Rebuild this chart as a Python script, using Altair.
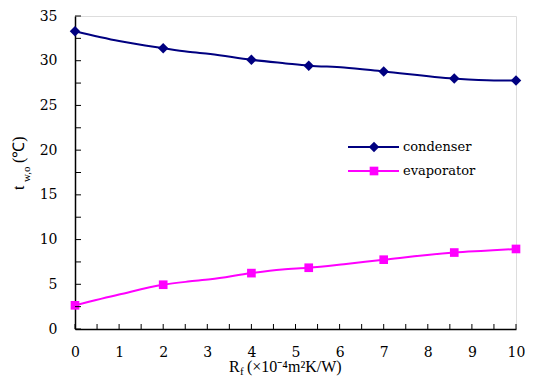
import altair as alt
import pandas as pd

# ---- data ----
series_names = ["condenser", "evaporator"]
series_colors = ["#000080", "#FF00FF"]
series_shapes = ["diamond", "square"]

cond_x = [0, 1, 2, 2.56, 3.07, 4, 4.78, 5.3, 6.1, 7, 8.6, 9.5, 10]
cond_y = [33.3, 32.2, 31.4, 31.0, 30.75, 30.1, 29.7, 29.45, 29.25, 28.8, 28.0, 27.8, 27.8]
cond_mark_x = [0, 2, 4, 5.3, 7, 8.6, 10]
cond_mark_y = [33.3, 31.4, 30.1, 29.45, 28.8, 28.0, 27.8]

evap_x = [0, 1, 2, 2.56, 3.07, 4, 4.7, 5.3, 6.1, 7, 8.6, 9.3, 10]
evap_y = [2.65, 3.85, 4.95, 5.3, 5.55, 6.25, 6.65, 6.85, 7.25, 7.75, 8.55, 8.75, 8.95]
evap_mark_x = [0, 2, 4, 5.3, 7, 8.6, 10]
evap_mark_y = [2.65, 4.95, 6.25, 6.85, 7.75, 8.55, 8.95]

x_labels = list(range(0, 11))
x_ticks = [i * 0.5 for i in range(21)]
y_labels = list(range(0, 36, 5))
y_ticks = [i * 2.5 for i in range(15)]

# ---- tables ----
line_df = pd.concat([
    pd.DataFrame({"x": cond_x, "y": cond_y, "series": series_names[0]}),
    pd.DataFrame({"x": evap_x, "y": evap_y, "series": series_names[1]}),
])
mark_df = pd.concat([
    pd.DataFrame({"x": cond_mark_x, "y": cond_mark_y, "series": series_names[0]}),
    pd.DataFrame({"x": evap_mark_x, "y": evap_mark_y, "series": series_names[1]}),
])

W, H = 441, 313
FONT = "DejaVu Serif"
SERIF = "Liberation Serif"

xscale = alt.Scale(domain=[0, 10], nice=False, zero=False)
yscale = alt.Scale(domain=[0, 35], nice=False)
color = alt.Color("series:N", scale=alt.Scale(domain=series_names, range=series_colors), legend=None)

xaxis = alt.Axis(values=x_labels, ticks=False, grid=False, labelPadding=16, labelFont=FONT,
                 labelFontSize=14, labelColor="#000", domainColor="#000", domainWidth=1.5,
                 title=None, labelFlush=False)
yaxis = alt.Axis(values=y_labels, ticks=False, grid=False, labelPadding=18, labelFont=FONT,
                 labelFontSize=14, labelColor="#000", domainColor="#000", domainWidth=1.5,
                 title=None)

lines = alt.Chart(line_df).mark_line(interpolate="monotone", strokeWidth=2).encode(
    x=alt.X("x:Q", scale=xscale, axis=xaxis),
    y=alt.Y("y:Q", scale=yscale, axis=yaxis),
    color=color,
    detail="series:N",
)

points = alt.Chart(mark_df).mark_point(filled=True, opacity=1).encode(
    x=alt.X("x:Q", scale=xscale),
    y=alt.Y("y:Q", scale=yscale),
    color=color,
    shape=alt.Shape("series:N", scale=alt.Scale(domain=series_names, range=series_shapes), legend=None),
    size=alt.Size("series:N", scale=alt.Scale(domain=series_names, range=[110, 75]), legend=None),
)

ytick_rules = alt.Chart(pd.DataFrame({"v": y_ticks})).mark_rule(color="#000", strokeWidth=1).encode(
    y=alt.Y("v:Q", scale=yscale), x=alt.value(0), x2=alt.value(6)
)
xtick_rules = alt.Chart(pd.DataFrame({"v": x_ticks})).mark_rule(color="#000", strokeWidth=1).encode(
    x=alt.X("v:Q", scale=xscale), y=alt.value(H), y2=alt.value(H - 5)
)

# ---- manual legend ----
legend_layers = []
for i, (name, col, shp, sz) in enumerate(zip(series_names, series_colors, series_shapes, [110, 75])):
    d = pd.DataFrame({"series": [name]})
    ly = 131 + 24 * i
    legend_layers.append(alt.Chart(d).mark_rule(color=col, strokeWidth=2).encode(
        x=alt.value(273), x2=alt.value(324), y=alt.value(ly)))
    legend_layers.append(alt.Chart(d).mark_point(filled=True, opacity=1, color=col, shape=shp, size=sz).encode(
        x=alt.value(299), y=alt.value(ly)))
    legend_layers.append(alt.Chart(d).mark_text(align="left", baseline="middle", font=FONT, fontSize=13,
                                                color="#000").encode(
        text="series:N", x=alt.value(328), y=alt.value(ly)))

# ---- axis titles built from text pieces (sub/superscripts) ----
def txt(s, x, y, size, angle=0, align="left", baseline="alphabetic"):
    kw = dict(align=align, baseline=baseline, font=SERIF, fontSize=size, color="#000", text=s)
    if angle:
        kw["angle"] = angle
    return alt.Chart(pd.DataFrame({"a": [0]})).mark_text(**kw).encode(x=alt.value(x), y=alt.value(y))

title_layers = [
    txt("t", -51, 174, 16, angle=270),
    txt("w,o", -45, 166, 11, angle=270),
    txt("(℃)", -51, 147, 16, angle=270),
    txt("R", 154, 356, 16),
    txt("f", 165, 359, 11),
    txt("(×10⁻⁴m²K/W)", 172, 356, 16),
]

chart = alt.layer(
    lines, points, ytick_rules, xtick_rules, *legend_layers, *title_layers
).properties(
    width=W, height=H,
    autosize=alt.AutoSizeParams(type="none"),
    padding={"left": 67, "top": 8, "right": 9, "bottom": 50},
).configure_view(stroke="#333", strokeWidth=1).configure(background="white")

chart.save("out.html", embed_options={"renderer": "svg", "actions": False})
